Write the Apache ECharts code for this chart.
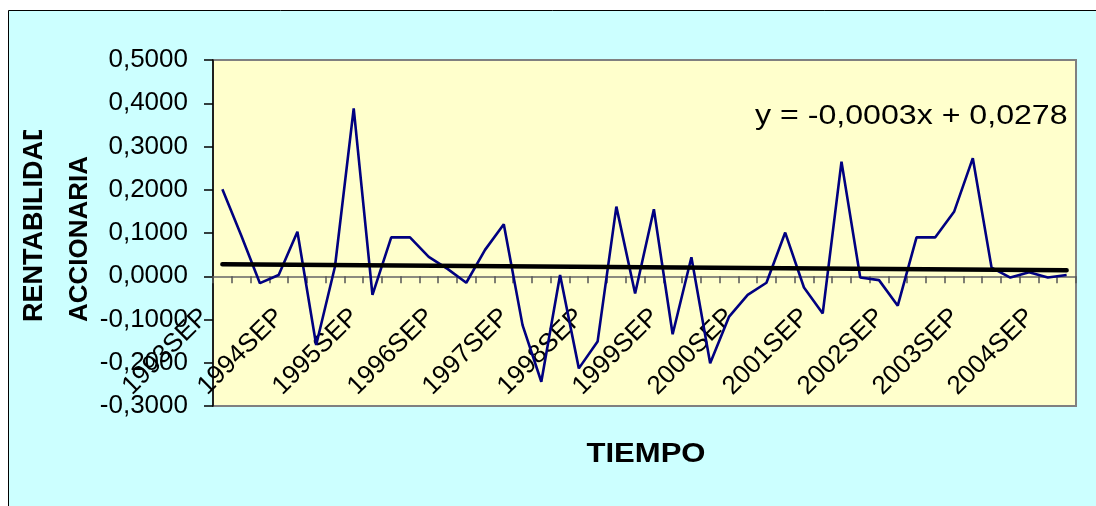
<!DOCTYPE html>
<html>
<head>
<meta charset="utf-8">
<script src="https://cdn.jsdelivr.net/npm/echarts@6/dist/echarts.min.js"></script>
<style>
  html, body { margin: 0; padding: 0; background: #ffffff; }
  #chart { width: 1096px; height: 506px; }
</style>
</head>
<body>
<div id="chart"></div>
<script>
// Quarterly periods, September 1993 to December 2004
const categories = [
  '1993SEP', '1993DIC',
  '1994MAR', '1994JUN', '1994SEP', '1994DIC',
  '1995MAR', '1995JUN', '1995SEP', '1995DIC',
  '1996MAR', '1996JUN', '1996SEP', '1996DIC',
  '1997MAR', '1997JUN', '1997SEP', '1997DIC',
  '1998MAR', '1998JUN', '1998SEP', '1998DIC',
  '1999MAR', '1999JUN', '1999SEP', '1999DIC',
  '2000MAR', '2000JUN', '2000SEP', '2000DIC',
  '2001MAR', '2001JUN', '2001SEP', '2001DIC',
  '2002MAR', '2002JUN', '2002SEP', '2002DIC',
  '2003MAR', '2003JUN', '2003SEP', '2003DIC',
  '2004MAR', '2004JUN', '2004SEP', '2004DIC'
];

// Quarterly stock return
const rentabilidad = [
  0.201, 0.095,
  -0.016, 0.003, 0.103, -0.159,
  0.022, 0.388, -0.043, 0.090,
  0.090, 0.045, 0.017, -0.015,
  0.061, 0.120, -0.113, -0.244,
  0.003, -0.213, -0.151, 0.161,
  -0.040, 0.155, -0.134, 0.044,
  -0.201, -0.094, -0.043, -0.015,
  0.101, -0.026, -0.086, 0.265,
  -0.003, -0.009, -0.068, 0.090,
  0.090, 0.149, 0.273, 0.020,
  -0.003, 0.009, -0.003, 0.003
];

// Linear trend: y = slope * x + intercept, x = 1 .. n
const trendSlope = -0.0003;
const trendIntercept = 0.0278;

// Value axis range
const yMin = -0.3;
const yMax = 0.5;
const yStep = 0.1;

const n = categories.length;
const trendData = categories.map(function (c, i) {
  if (i === 0 || i === n - 1) {
    return +(trendSlope * (i + 1) + trendIntercept).toFixed(6);
  }
  return null;
});

function fmtValue(v) {
  const s = Math.abs(v) < 1e-9 ? '0.0000' : v.toFixed(4);
  return s.replace('.', ',');
}

const FONT = '"Liberation Sans", Arial, sans-serif';

const chart = echarts.init(document.getElementById('chart'), null, { renderer: 'canvas' });

chart.setOption({
  backgroundColor: '#ffffff',
  animation: false,
  grid: {
    left: 213, top: 60, width: 863, height: 346,
    show: true,
    backgroundColor: '#FFFFCC',
    borderColor: '#808080',
    borderWidth: 2,
    containLabel: false,
    outerBoundsMode: 'none'
  },
  xAxis: [
    {
      // category axis drawn across the zero line
      type: 'category',
      data: categories,
      boundaryGap: true,
      axisLine: { show: true, onZero: true, lineStyle: { color: '#666666', width: 1.5 } },
      axisTick: { show: true, inside: false, length: 7, interval: 0, lineStyle: { color: '#555555', width: 1.5 } },
      axisLabel: { show: false },
      splitLine: { show: false }
    },
    {
      // period labels, moved up next to the zero line once the scale is known
      type: 'category',
      data: categories,
      boundaryGap: true,
      position: 'bottom',
      offset: 0,
      axisLine: { show: false, onZero: false },
      axisTick: { show: false },
      axisLabel: {
        show: true,
        interval: 3,
        rotate: 45,
        margin: 19,
        padding: [0, 25, 0, 0],
        color: '#000000',
        fontFamily: FONT,
        fontSize: 26
      },
      splitLine: { show: false }
    }
  ],
  yAxis: {
    type: 'value',
    min: yMin,
    max: yMax,
    interval: yStep,
    axisLine: { show: true, onZero: false, lineStyle: { color: '#000000', width: 1.5 } },
    axisTick: { show: true, inside: false, length: 9, lineStyle: { color: '#000000', width: 1.5 } },
    axisLabel: {
      show: true,
      margin: 25,
      color: '#000000',
      fontFamily: FONT,
      fontSize: 26,
      formatter: fmtValue
    },
    splitLine: { show: false }
  },
  series: [
    {
      name: 'Rentabilidad',
      type: 'line',
      data: rentabilidad,
      symbol: 'none',
      lineStyle: { color: '#000080', width: 2.6 },
      z: 3
    },
    {
      name: 'Tendencia',
      type: 'line',
      data: trendData,
      connectNulls: true,
      symbol: 'none',
      lineStyle: { color: '#000000', width: 4.5, cap: 'round' },
      z: 4
    }
  ],
  graphic: [
    {
      type: 'rect',
      z: -10,
      silent: true,
      shape: { x: 8.5, y: 10.5, width: 1200, height: 600 },
      style: { fill: '#CCFFFF', stroke: '#000000', lineWidth: 1 }
    },
    {
      type: 'text',
      z: 10,
      x: 755, y: 117,
      scaleX: 1.19,
      style: {
        text: 'y = -0,0003x + 0,0278',
        fill: '#000000',
        font: '27px ' + FONT,
        align: 'left',
        verticalAlign: 'middle'
      }
    },
    {
      type: 'text',
      z: 10,
      x: 646, y: 455,
      scaleX: 1.15,
      style: {
        text: 'TIEMPO',
        fill: '#000000',
        font: 'bold 27px ' + FONT,
        align: 'center',
        verticalAlign: 'middle'
      }
    },
    {
      type: 'text',
      z: 10,
      x: 35, y: 322,
      rotation: Math.PI / 2,
      style: {
        text: 'RENTABILIDAD',
        fill: '#000000',
        font: 'bold 27px ' + FONT,
        align: 'left',
        verticalAlign: 'middle'
      }
    },
    {
      type: 'text',
      z: 10,
      x: 80, y: 322,
      rotation: Math.PI / 2,
      style: {
        text: 'ACCIONARIA',
        fill: '#000000',
        font: 'bold 26px ' + FONT,
        align: 'left',
        verticalAlign: 'middle'
      }
    },
    {
      // title box edge: the first line is cut at the top of its frame
      type: 'rect',
      z: 11,
      silent: true,
      shape: { x: 16, y: 11, width: 38, height: 119 },
      style: { fill: '#CCFFFF' }
    }
  ]
});

// Place the period labels beside the zero line, using the value axis scale
const zeroPx = chart.convertToPixel({ yAxisIndex: 0 }, 0);
const bottomPx = chart.convertToPixel({ yAxisIndex: 0 }, yMin);
chart.setOption({
  xAxis: [{}, { offset: -(bottomPx - zeroPx) }]
});
</script>
</body>
</html>
